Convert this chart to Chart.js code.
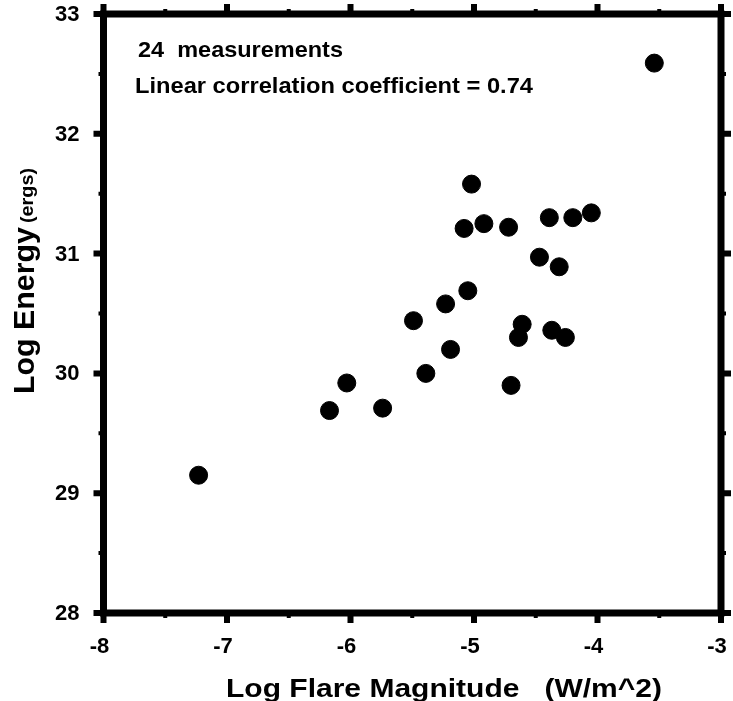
<!DOCTYPE html>
<html>
<head>
<meta charset="utf-8">
<script src="https://cdn.jsdelivr.net/npm/chart.js@4"></script>
<style>
  html, body { margin: 0; padding: 0; background: #fff; }
  #wrap { width: 733px; height: 701px; position: relative; }
</style>
</head>
<body>
<div id="wrap"><canvas id="flareChart"></canvas></div>
<script>
// Log flare magnitude (W/m^2) vs log energy (ergs)
const flareMag = [-7.23, -6.17, -6.03, -5.74, -5.49, -5.39, -5.23, -5.19, -5.08, -5.05,
                  -5.02, -4.92, -4.72, -4.70, -4.64, -4.61, -4.47, -4.39, -4.37, -4.31,
                  -4.26, -4.20, -4.05, -3.54];
const logEnergy = [29.15, 29.69, 29.92, 29.71, 30.44, 30.00, 30.58, 30.20, 31.21, 30.69,
                   31.58, 31.25, 31.22, 29.90, 30.30, 30.41, 30.97, 31.30, 30.36, 30.89,
                   30.30, 31.30, 31.34, 32.59];

const xTicks = [-8, -7, -6, -5, -4, -3];
const yTicks = [28, 29, 30, 31, 32, 33];

const points = flareMag.map((x, i) => ({ x: x, y: logEnergy[i] }));

const FONT = '"Liberation Sans", Arial, Helvetica, sans-serif';

// draw text squeezed/stretched to a given width
function fitText(ctx, txt, x, y, width) {
    const w = ctx.measureText(txt).width;
    ctx.save();
    ctx.translate(x, y);
    ctx.scale(width / w, 1);
    ctx.fillText(txt, 0, 0);
    ctx.restore();
}

// frame, ticks, tick labels and the text notes
// (labels drawn here so Chart.js doesn't pad the area for them)
const framePlugin = {
    id: 'frame',
    afterDraw(chart) {
        const ctx = chart.ctx;
        const a = chart.chartArea;
        const xs = chart.scales.x;
        const ys = chart.scales.y;
        ctx.save();
        ctx.strokeStyle = '#000';
        ctx.fillStyle = '#000';
        ctx.lineCap = 'butt';

        // ticks, major and minor (halves), outward on every side
        for (let v = -8; v <= -3; v += 0.5) {
            const px = xs.getPixelForValue(v);
            const major = Number.isInteger(v);
            const len = major ? 10 : 5;
            ctx.lineWidth = major ? 6 : 4;
            ctx.beginPath();
            ctx.moveTo(px, a.bottom); ctx.lineTo(px, a.bottom + len);
            ctx.moveTo(px, a.top); ctx.lineTo(px, a.top - len);
            ctx.stroke();
        }
        for (let v = 28; v <= 33; v += 0.5) {
            const py = ys.getPixelForValue(v);
            const major = Number.isInteger(v);
            const len = major ? 10 : 5;
            ctx.lineWidth = major ? 6 : 4;
            ctx.beginPath();
            ctx.moveTo(a.left, py); ctx.lineTo(a.left - len, py);
            ctx.moveTo(a.right, py); ctx.lineTo(a.right + len, py);
            ctx.stroke();
        }

        // box
        ctx.lineWidth = 7;
        ctx.strokeRect(a.left, a.top, a.right - a.left, a.bottom - a.top);

        // tick labels
        ctx.font = 'bold 22px ' + FONT;
        ctx.textAlign = 'center';
        ctx.textBaseline = 'top';
        xTicks.forEach(v => ctx.fillText(String(v), xs.getPixelForValue(v) - 4, a.bottom + 23));
        ctx.textAlign = 'right';
        ctx.textBaseline = 'middle';
        yTicks.forEach(v => ctx.fillText(String(v), a.left - 24, ys.getPixelForValue(v) + 1));

        // notes
        ctx.textBaseline = 'alphabetic';
        ctx.textAlign = 'left';
        ctx.font = 'bold 22px ' + FONT;
        fitText(ctx, '24  measurements', 138, 57, 205);
        fitText(ctx, 'Linear correlation coefficient = 0.74', 135, 93, 398);

        // x title
        ctx.font = 'bold 26px ' + FONT;
        fitText(ctx, 'Log Flare Magnitude   (W/m^2)', 226, 697, 436);

        // y title, rotated, with smaller units
        ctx.save();
        ctx.translate(34, 394);
        ctx.rotate(-Math.PI / 2);
        ctx.font = 'bold 29px ' + FONT;
        fitText(ctx, 'Log Energy', 0, 0, 167);
        ctx.font = 'bold 18px ' + FONT;
        fitText(ctx, '(ergs)', 171, -1, 55);
        ctx.restore();

        ctx.restore();
    }
};

const hiddenAxis = (pos, lo, hi, fit) => ({
    type: 'linear',
    position: pos,
    min: lo, max: hi,
    afterFit: fit,
    grid: { display: false },
    border: { display: false },
    ticks: { display: false },
});

new Chart(document.getElementById('flareChart'), {
    type: 'scatter',
    data: {
        datasets: [{
            data: points,
            backgroundColor: '#000',
            borderColor: '#000',
            pointRadius: 9,
            pointHoverRadius: 9,
        }]
    },
    options: {
        responsive: true,
        maintainAspectRatio: false,
        animation: false,
        layout: { padding: 0 },
        plugins: { legend: { display: false }, tooltip: { enabled: false } },
        scales: {
            x: hiddenAxis('bottom', -8, -3, (s) => { s.height = 88; }),
            xTop: hiddenAxis('top', -8, -3, (s) => { s.height = 14; }),
            y: hiddenAxis('left', 28, 33, (s) => { s.width = 103.5; }),
            yRight: hiddenAxis('right', 28, 33, (s) => { s.width = 12; }),
        }
    },
    plugins: [framePlugin]
});
</script>
</body>
</html>
